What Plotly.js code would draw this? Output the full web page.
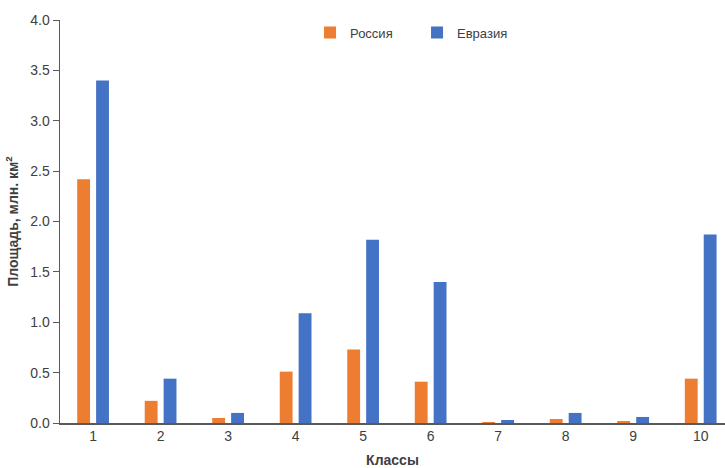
<!DOCTYPE html>
<html><head><meta charset="utf-8">
<script src="https://cdn.plot.ly/plotly-3.0.1.min.js"></script>
<style>html,body{margin:0;padding:0;background:#fff}#c{width:725px;height:468px}</style>
</head><body><div id="c"></div>
<script>
const categories = [1,2,3,4,5,6,7,8,9,10];
const russia = [2.42,0.22,0.05,0.51,0.73,0.41,0.01,0.04,0.02,0.44];
const eurasia = [3.40,0.44,0.10,1.09,1.82,1.40,0.03,0.10,0.06,1.87];
const yTicks = [0,0.5,1,1.5,2,2.5,3,3.5,4];

const font = {family:'Liberation Sans, Arial, sans-serif', size:14, color:'#404040'};
Plotly.newPlot('c', [
  {type:'bar', name:'Россия', x:categories, y:russia, marker:{color:'#ED7D31'}},
  {type:'bar', name:'Евразия', x:categories, y:eurasia, marker:{color:'#4472C4'}}
], {
  width:725, height:468,
  margin:{l:60, r:0, t:20, b:45},
  barmode:'group', bargap:0.44, bargroupgap:0.32,
  paper_bgcolor:'#fff', plot_bgcolor:'#fff',
  font:font,
  showlegend:true,
  legend:{orientation:'h', x:0.376, xanchor:'left', y:1.006, yanchor:'top',
    font:{family:'Liberation Sans, Arial, sans-serif', size:13, color:'#404040'},
    itemwidth:30, entrywidth:62, entrywidthmode:'pixels', traceorder:'normal', bgcolor:'rgba(0,0,0,0)'},
  xaxis:{range:[0.51,10.36], tickvals:categories, ticktext:categories.map(String),
    showgrid:false, zeroline:false, showline:true, linecolor:'#595959', linewidth:1.5,
    ticks:'', tickfont:{size:14, color:'#404040'},
    title:{text:'<b>Классы</b>', font:{size:14, color:'#404040'}, standoff:12}},
  yaxis:{range:[0,4], tickvals:yTicks, ticktext:yTicks.map(v=>v.toFixed(1)),
    showgrid:false, zeroline:false, showline:true, linecolor:'#595959', linewidth:1.5,
    ticks:'outside', ticklen:6, tickcolor:'#595959', tickfont:{size:14, color:'#404040'},
    title:{text:'<b>Площадь, млн. км<sup>2</sup></b>', font:{size:14, color:'#404040'}, standoff:8}}
}, {displayModeBar:false, staticPlot:true});
</script></body></html>
